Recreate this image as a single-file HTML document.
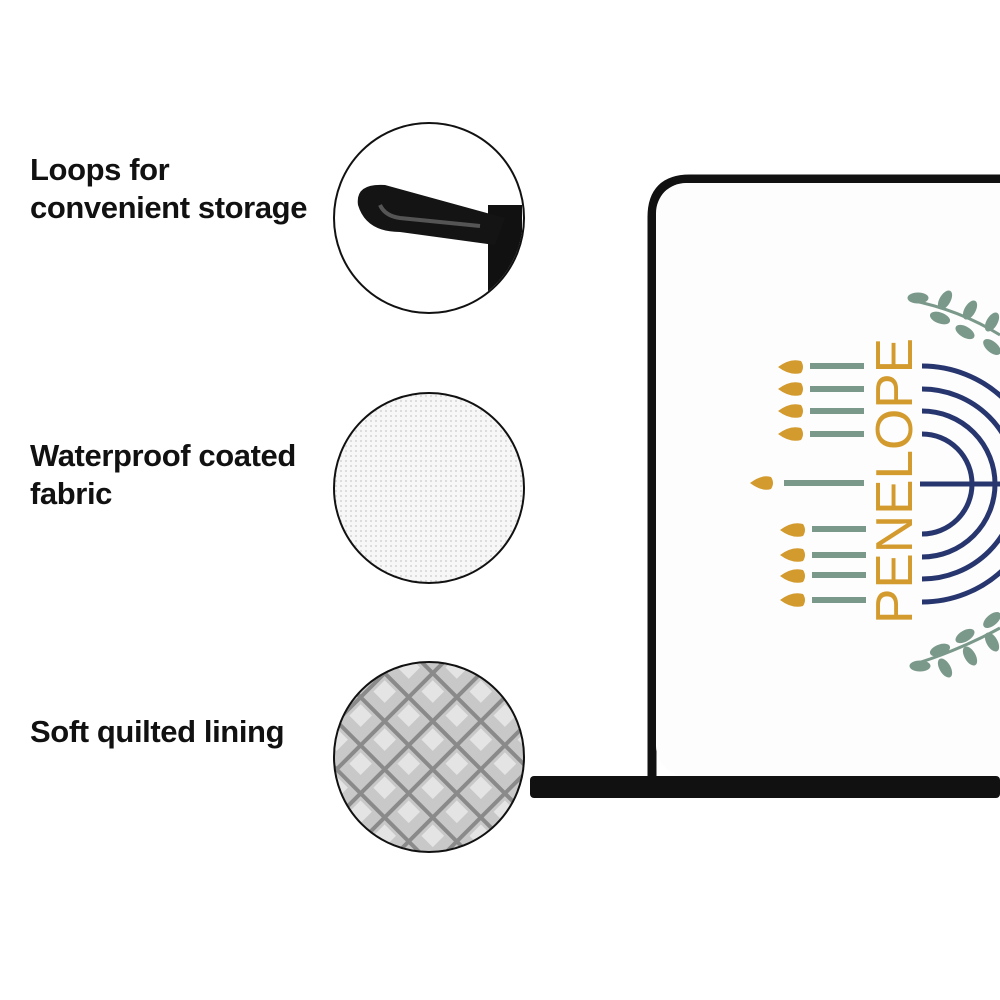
<!DOCTYPE html>
<html><head><style>
body{margin:0;width:1000px;height:1000px;background:#fff;overflow:hidden;position:relative;font-family:"Liberation Sans",sans-serif}
.t{position:absolute;left:30px;font-size:31px;font-weight:bold;color:#111;line-height:38px;letter-spacing:-0.4px}
</style></head><body>
<div class="t" style="top:151px">Loops for<br>convenient storage</div>
<div class="t" style="top:437px">Waterproof coated<br>fabric</div>
<div class="t" style="top:713px">Soft quilted lining</div>
<svg width="1000" height="1000" style="position:absolute;left:0;top:0">
<defs>
<pattern id="mesh" width="5" height="5" patternUnits="userSpaceOnUse"><rect width="5" height="5" fill="#f7f7f7"/><rect width="2" height="2" fill="#dcdcdc"/></pattern>
<pattern id="quilt" width="34" height="34" patternUnits="userSpaceOnUse" patternTransform="rotate(45)"><rect width="34" height="34" fill="#8a8a8a"/><rect x="2" y="2" width="30" height="30" fill="#c8c8c8"/><rect x="5" y="5" width="16" height="16" fill="#e4e4e4"/></pattern>
<clipPath id="c1"><circle cx="429" cy="218" r="94"/></clipPath>
</defs>
<circle cx="429" cy="218" r="95" fill="#fff" stroke="#111" stroke-width="2"/>
<g clip-path="url(#c1)">
<rect x="488" y="205" width="34" height="120" fill="#111"/>
<path d="M505 218 L385 185 Q355 183 358 205 Q366 232 400 232 L495 245 Z" fill="#141414"/>
<path d="M380 205 Q385 216 400 218 L480 226" stroke="#555" stroke-width="4" fill="none"/>
</g>
<circle cx="429" cy="488" r="95" fill="url(#mesh)" stroke="#111" stroke-width="2"/>
<circle cx="429" cy="757" r="95" fill="url(#quilt)" stroke="#111" stroke-width="2"/>
<path d="M1000 179 L690 179 Q652 179 652 217 L652 780" stroke="#111" stroke-width="9" fill="none"/>
<rect x="530" y="776" width="470" height="22" rx="4" fill="#111"/>
<rect x="656" y="183" width="344" height="593" fill="#fdfdfd" rx="30"/>
<rect x="700" y="183" width="300" height="593" fill="#fdfdfd"/>
<g fill="#7b998b" stroke="#7b998b">
<path d="M910 300 Q960 310 1000 335" stroke-width="3" fill="none"/>
<ellipse cx="918" cy="298" rx="10" ry="5"/><ellipse cx="945" cy="300" rx="10" ry="5" transform="rotate(-60 945 300)"/><ellipse cx="940" cy="318" rx="10" ry="5" transform="rotate(20 940 318)"/><ellipse cx="970" cy="310" rx="10" ry="5" transform="rotate(-60 970 310)"/><ellipse cx="965" cy="332" rx="10" ry="5" transform="rotate(30 965 332)"/><ellipse cx="992" cy="322" rx="10" ry="5" transform="rotate(-60 992 322)"/><ellipse cx="992" cy="347" rx="10" ry="5" transform="rotate(40 992 347)"/>
<path d="M912 665 Q960 650 1000 628" stroke-width="3" fill="none"/>
<ellipse cx="920" cy="666" rx="10" ry="5"/><ellipse cx="945" cy="668" rx="10" ry="5" transform="rotate(60 945 668)"/><ellipse cx="940" cy="650" rx="10" ry="5" transform="rotate(-20 940 650)"/><ellipse cx="970" cy="656" rx="10" ry="5" transform="rotate(60 970 656)"/><ellipse cx="965" cy="636" rx="10" ry="5" transform="rotate(-30 965 636)"/><ellipse cx="992" cy="642" rx="10" ry="5" transform="rotate(60 992 642)"/><ellipse cx="992" cy="620" rx="10" ry="5" transform="rotate(-40 992 620)"/>
</g>
<g fill="#7b998b">
<rect x="810" y="363" width="54" height="6"/><rect x="810" y="386" width="54" height="6"/><rect x="810" y="408" width="54" height="6"/><rect x="810" y="431" width="54" height="6"/>
<rect x="784" y="480" width="80" height="6"/>
<rect x="812" y="526" width="54" height="6"/><rect x="812" y="552" width="54" height="6"/><rect x="812" y="572" width="54" height="6"/><rect x="812" y="597" width="54" height="6"/>
</g>
<g fill="#d39a2e">
<path d="M778 367 Q790 358 801 361 Q805 367 801 373 Q790 376 778 367Z"/>
<path d="M778 389 Q790 380 801 383 Q805 389 801 395 Q790 398 778 389Z"/>
<path d="M778 411 Q790 402 801 405 Q805 411 801 417 Q790 420 778 411Z"/>
<path d="M778 434 Q790 425 801 428 Q805 434 801 440 Q790 443 778 434Z"/>
<path d="M750 483 Q762 474 771 477 Q775 483 771 489 Q762 492 750 483Z"/>
<path d="M780 530 Q792 521 803 524 Q807 530 803 536 Q792 539 780 530Z"/>
<path d="M780 555 Q792 546 803 549 Q807 555 803 561 Q792 564 780 555Z"/>
<path d="M780 576 Q792 567 803 570 Q807 576 803 582 Q792 585 780 576Z"/>
<path d="M780 600 Q792 591 803 594 Q807 600 803 606 Q792 609 780 600Z"/>
</g>
<text x="0" y="0" transform="translate(912 624) rotate(-90)" font-family="Liberation Sans" font-size="52" fill="#d39a2e" textLength="286" lengthAdjust="spacingAndGlyphs">PENELOPE</text>
<g stroke="#27366e" stroke-width="5" fill="none">
<path d="M922 366 A118 118 0 0 1 1040 484 A118 118 0 0 1 922 602"/>
<path d="M922 389 A95 95 0 0 1 1017 484 A95 95 0 0 1 922 579"/>
<path d="M922 411 A73 73 0 0 1 995 484 A73 73 0 0 1 922 557"/>
<path d="M922 434 A50 50 0 0 1 972 484 A50 50 0 0 1 922 534"/>
<path d="M920 484 L1000 484"/>
</g>
</svg>
</body></html>
